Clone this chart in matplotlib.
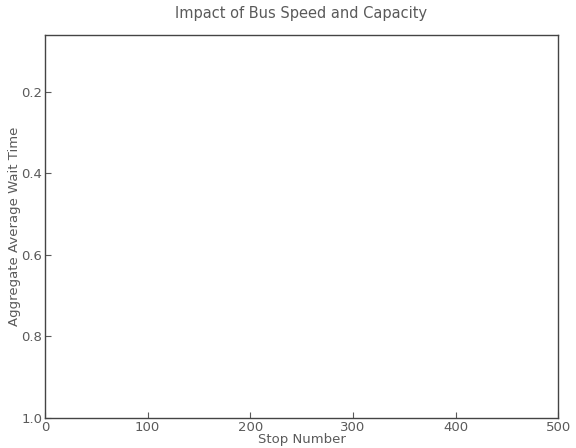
import matplotlib
matplotlib.use('Agg')
import matplotlib.pyplot as plt

# the chart carries no visible series, only the axes
stop_number = []
wait_time = []
x_ticks = [0, 100, 200, 300, 400, 500]
y_ticks = [0.2, 0.4, 0.6, 0.8, 1.0]

plt.rcParams['font.family'] = 'DejaVu Sans'
text_col = '#5a5a5a'

fig = plt.figure(figsize=(5.76, 4.48), dpi=100)
ax = fig.add_axes([0.078, 0.067, 0.891, 0.855])
ax.plot(stop_number, wait_time, color='b')

ax.set_xlim(0, 500)
ax.set_ylim(1.0, 0.06)
ax.set_xticks(x_ticks)
ax.set_yticks(y_ticks)
ax.set_xticklabels([str(t) for t in x_ticks])
ax.set_yticklabels(['%.1f' % t for t in y_ticks])
ax.tick_params(direction='in', length=4, colors=text_col, labelsize=9.5, pad=2)

for s in ax.spines.values():
    s.set_color('#444444')
    s.set_linewidth(1.0)

ax.set_xlabel('Stop Number', color=text_col, fontsize=9.5)
ax.xaxis.set_label_coords(0.5, -0.039)
ax.set_ylabel('Aggregate Average Wait Time', color=text_col, fontsize=9.5)
ax.yaxis.set_label_coords(-0.047, 0.5)
ax.set_title('Impact of Bus Speed and Capacity', color=text_col, fontsize=10.5, pad=12)

fig.savefig('out.png', dpi=100)
